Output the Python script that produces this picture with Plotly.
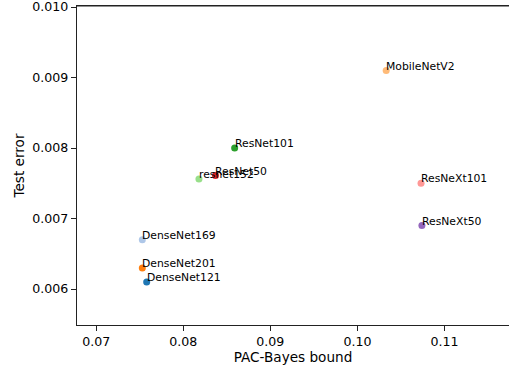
import plotly.graph_objects as go

# Model names, PAC-Bayes bound and test error
models = ["DenseNet121", "DenseNet169", "DenseNet201", "MobileNetV2", "ResNet101",
          "resnet152", "ResNet50", "ResNeXt101", "ResNeXt50"]
pac_bayes = [0.0758, 0.0753, 0.0753, 0.1033, 0.0859, 0.0818, 0.0837, 0.1073, 0.1074]
test_error = [0.0061, 0.0067, 0.0063, 0.0091, 0.0080, 0.00756, 0.00761, 0.0075, 0.0069]
colors = ["#1f77b4", "#aec7e8", "#ff7f0e", "#ffbb78", "#2ca02c",
          "#98df8a", "#d62728", "#ff9896", "#9467bd"]
y_ticks = [0.006, 0.007, 0.008, 0.009, 0.010]
x_ticks = [0.07, 0.08, 0.09, 0.10, 0.11]

FONT = "DejaVu Sans"

fig = go.Figure()
for name, x, y, c in zip(models, pac_bayes, test_error, colors):
    fig.add_trace(go.Scatter(x=[x], y=[y], mode="markers", name=name,
                             marker=dict(color=c, size=7, line=dict(width=0))))
    fig.add_annotation(x=x, y=y, text=name, showarrow=False,
                       xanchor="left", yanchor="bottom", xshift=-2, yshift=-4,
                       font=dict(family=FONT, size=10.8, color="black"))

fig.update_layout(
    width=509, height=366,
    margin=dict(l=77, r=0, t=6, b=41),
    paper_bgcolor="white", plot_bgcolor="white",
    showlegend=False,
    font=dict(family=FONT, color="black"),
)
fig.update_xaxes(
    range=[0.0678, 0.1174],
    tickvals=x_ticks, tickformat=".2f",
    showgrid=False, zeroline=False,
    showline=True, linecolor="#222", linewidth=1.2, mirror=True,
    ticks="outside", ticklen=5, tickcolor="#222",
    tickfont=dict(family=FONT, size=12.6),
    title=dict(text="PAC-Bayes bound", font=dict(family=FONT, size=13.6), standoff=3),
)
fig.update_yaxes(
    range=[0.00549, 0.010015],
    tickvals=y_ticks, tickformat=".3f", ticklabeloverflow="allow",
    showgrid=False, zeroline=False,
    showline=True, linecolor="#222", linewidth=1.2,
    ticks="outside", ticklen=5, tickcolor="#222",
    tickfont=dict(family=FONT, size=12.6),
    title=dict(text="Test error", font=dict(family=FONT, size=13.6), standoff=4),
)
# top spine of the axes box
fig.add_shape(type="line", xref="paper", yref="paper", x0=0, x1=1, y0=1, y1=1,
              line=dict(color="#222", width=1.2), layer="above")

fig.write_html("out.html")
